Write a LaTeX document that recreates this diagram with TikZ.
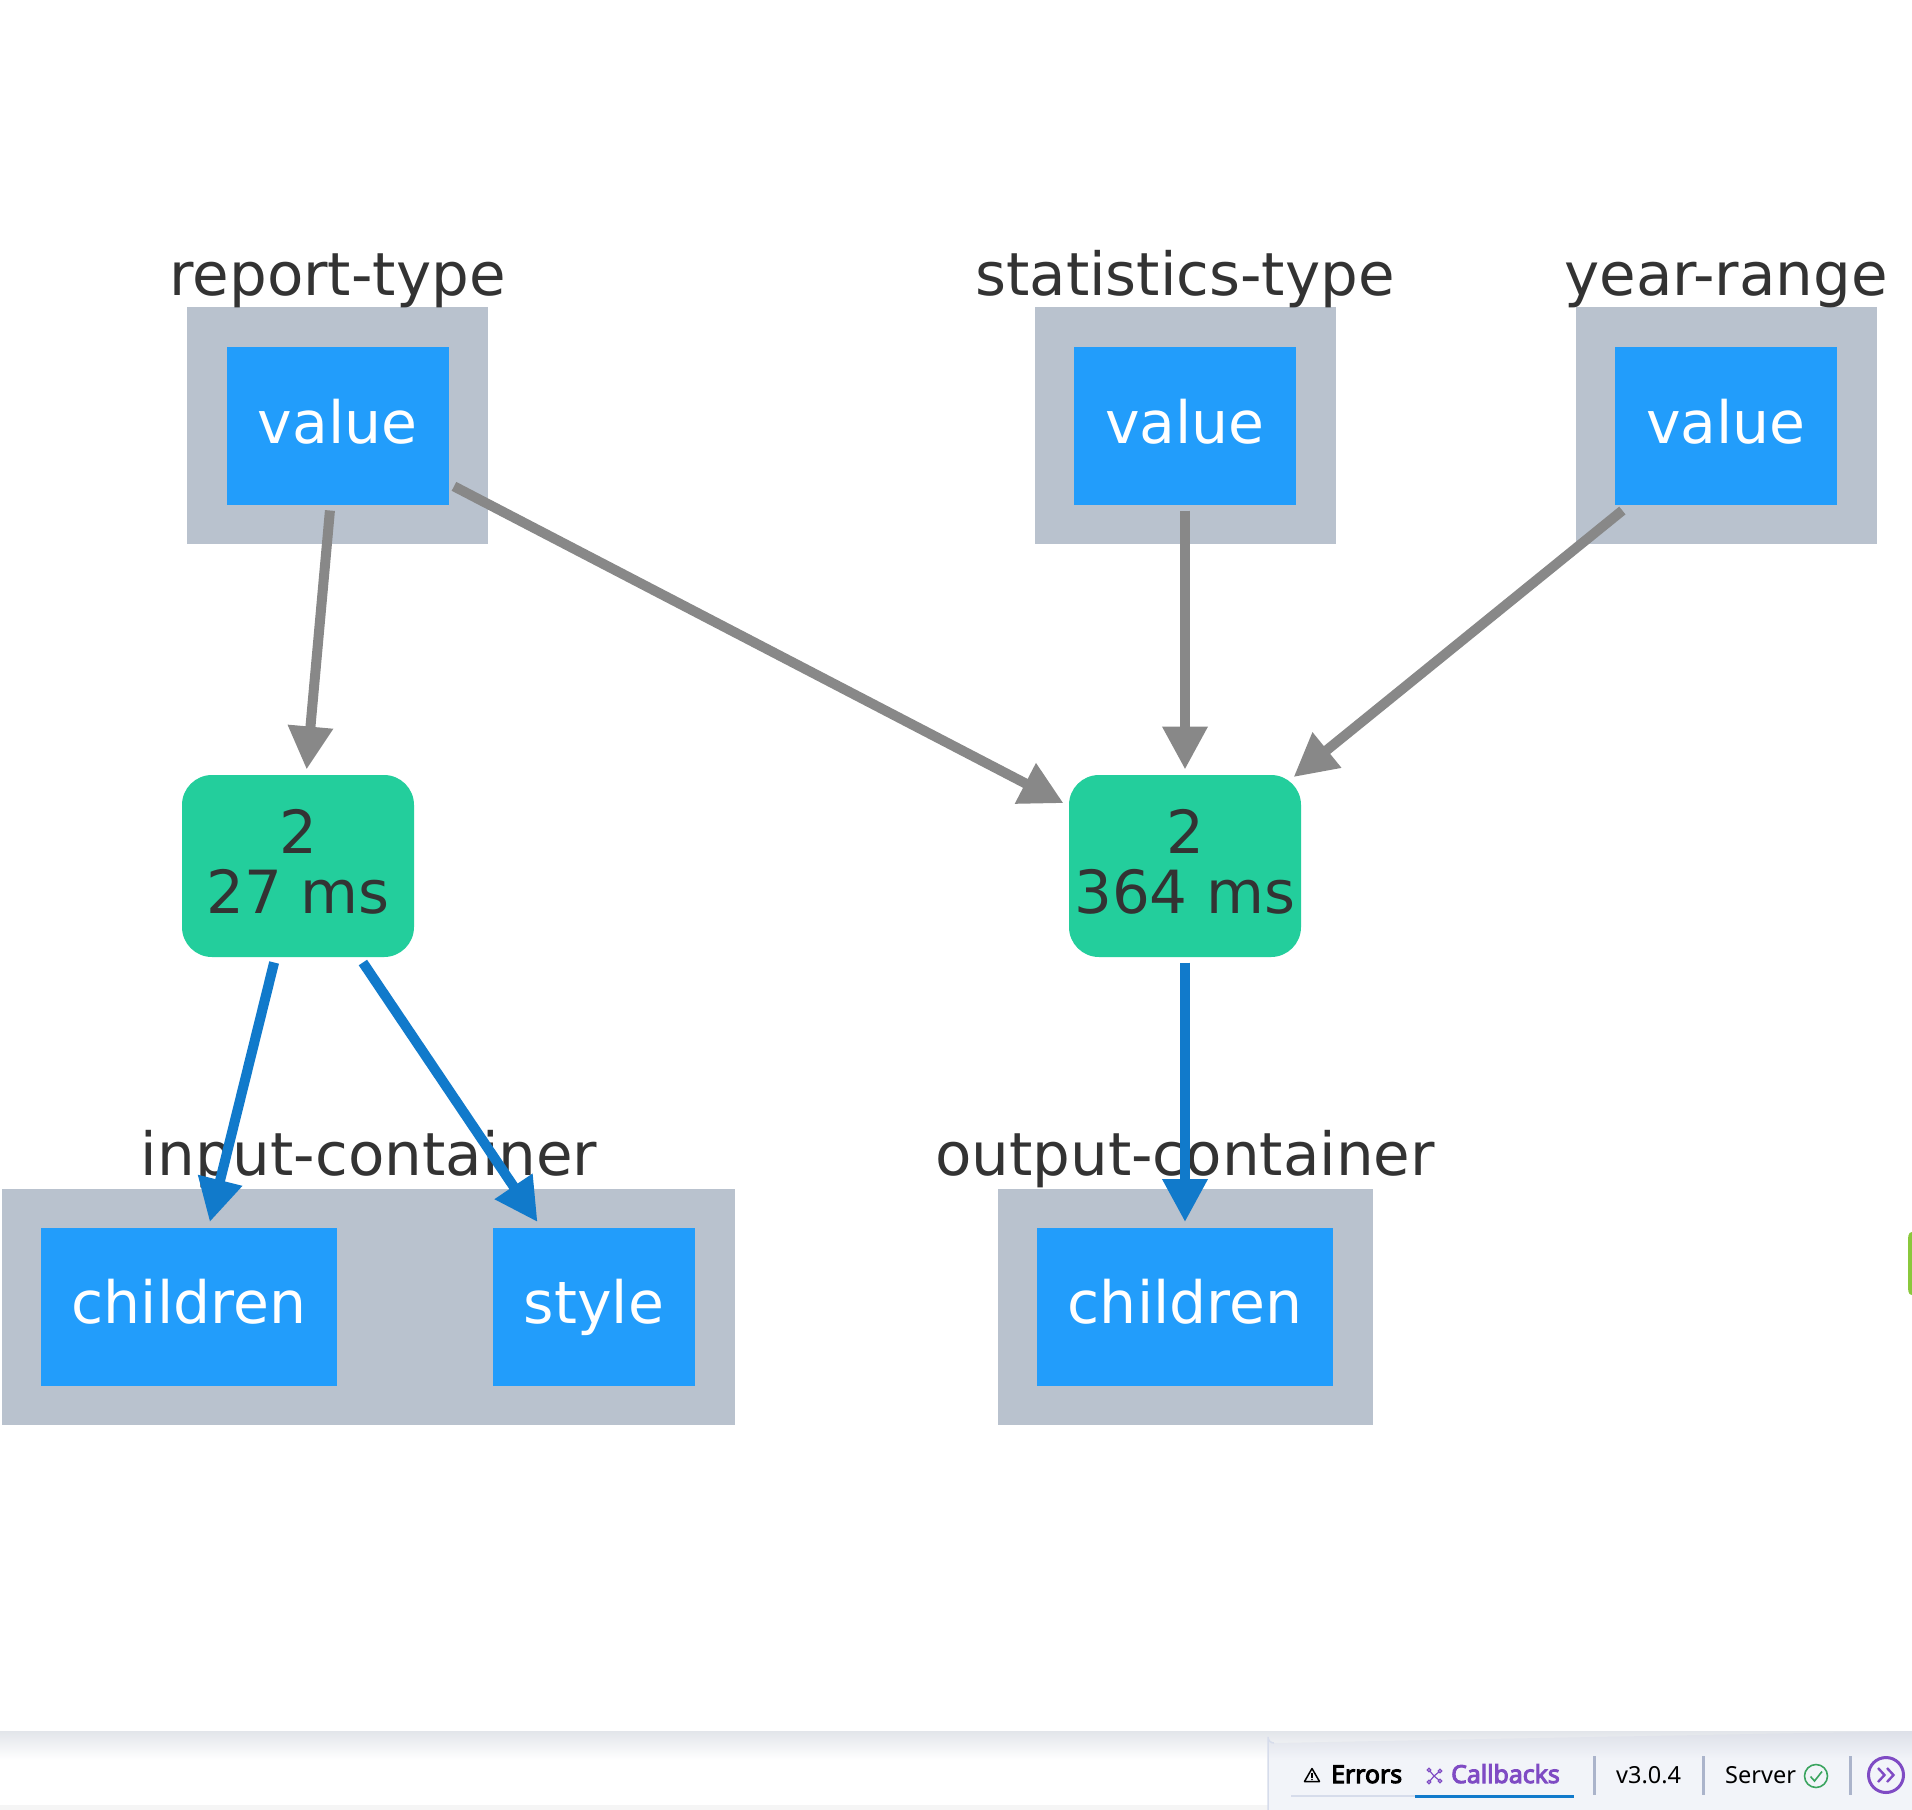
\documentclass[tikz,border=0pt]{standalone}
\usepackage{fontspec}
\setmainfont{DejaVu Sans}
\newfontfamily\barfont{Noto Sans}
\newfontfamily\barboldfont[FakeBold=4]{Noto Sans}
\usetikzlibrary{arrows.meta}
\definecolor{boxblue}{HTML}{229DFB}
\definecolor{parentgrey}{HTML}{B9C2CE}
\definecolor{cbgreen}{HTML}{23CE9C}
\definecolor{txtdark}{HTML}{333333}
\definecolor{edgegrey}{HTML}{888888}
\definecolor{edgeblue}{HTML}{117ACB}
\definecolor{purple1}{HTML}{7F4BC4}
\definecolor{panel}{HTML}{F2F4F9}
\definecolor{paneltop}{HTML}{DDE0E8}
\definecolor{panelborder}{HTML}{D6DCEB}
\definecolor{bartop}{HTML}{E2E5EA}
\definecolor{divider}{HTML}{ABB4CB}
\definecolor{okgreen}{HTML}{3AA45F}
\definecolor{limeedge}{HTML}{8AC83C}
\tikzset{
  graphtext/.style={font=\fontsize{59.5}{60}\selectfont},
  parentbox/.style={fill=parentgrey,inner sep=0pt,outer sep=0pt},
  propbox/.style={fill=boxblue,text=white,font=\fontsize{58.4}{60}\selectfont,inner sep=0pt,outer sep=5.5pt,minimum height=158pt,text height=34.5pt,text depth=0pt},
  cbbox/.style={fill=cbgreen,text=txtdark,graphtext,align=center,inner sep=0pt,outer sep=5.5pt,minimum width=232pt,minimum height=182pt,rounded corners=30pt},
  caption/.style={text=txtdark,graphtext,inner sep=0pt,anchor=base},
  inedge/.style={draw=edgegrey,line width=10pt,-{Triangle[length=43pt,width=43pt]}},
  outedge/.style={draw=edgeblue,line width=10pt,-{Triangle[length=43pt,width=43pt]}},
  bartext/.style={font=\barfont\fontsize{23.5}{26}\selectfont,inner sep=0pt,anchor=base west,text=black},
  barbold/.style={font=\barboldfont\fontsize{24.8}{26}\selectfont,inner sep=0pt,anchor=base west},
  divline/.style={draw=divider,line width=3pt},
}
\begin{document}
\begin{tikzpicture}[x=1pt,y=-1pt]
\useasboundingbox (0,0) rectangle (1912,1810);
\fill[white] (0,0) rectangle (1912,1810);
% parents
\node[parentbox,minimum width=301pt,minimum height=237pt] (p1) at (337.5,425.5) {};
\node[parentbox,minimum width=301pt,minimum height=237pt] (p2) at (1185,425.5) {};
\node[parentbox,minimum width=301pt,minimum height=237pt] (p3) at (1726,425.5) {};
\node[parentbox,minimum width=733pt,minimum height=236pt] (p4) at (368.5,1307) {};
\node[parentbox,minimum width=375pt,minimum height=236pt] (p5) at (1185,1307) {};
% captions
\node[caption] (c1) at (337.5,295) {report-type};
\node[caption] (c2) at (1185,295) {statistics-type};
\node[caption] (c3) at (1726,295) {year-range};
\node[caption] (c4) at (369,1175) {input-container};
\node[caption] (c5) at (1185,1175) {output-container};
% property nodes
\node[propbox,minimum width=222pt] (v1) at (337.5,426) {value};
\node[propbox,minimum width=222pt] (v2) at (1185,426) {value};
\node[propbox,minimum width=222pt] (v3) at (1726,426) {value};
\node[propbox,minimum width=296pt] (o1) at (189,1306.5) {children};
\node[propbox,minimum width=202pt] (o2) at (594,1306.5) {style};
\node[propbox,minimum width=296pt] (o3) at (1185,1306.5) {children};
% callbacks
\node[cbbox] (g1) at (298,866) {\raisebox{9.5pt}{2}\\[0pt]\raisebox{9.5pt}{27 ms}};
\node[cbbox] (g2) at (1185,866) {\raisebox{9.5pt}{2}\\[0pt]\raisebox{9.5pt}{364 ms}};
% edges
\draw[inedge] (v1) -- (g1);
\draw[inedge] (v1) -- (g2);
\draw[inedge] (v2) -- (g2);
\draw[inedge,shorten >=-12pt] (v3) -- (g2);
\draw[outedge] (g1) -- (o1);
\draw[outedge] (g1) -- (o2);
\draw[outedge] (g2) -- (o3);
% lime sliver at the right edge
\fill[limeedge] (1912,1232) to[out=180,in=90] (1908,1242) -- (1908,1285) to[out=-90,in=180] (1912,1295) -- cycle;
% bottom bar
\shade[top color=bartop,bottom color=white] (0,1731) rectangle (1912,1760);
\fill[white!96!black] (0,1805) rectangle (1268,1810);
\fill[panel] (1268,1810) -- (1268,1760) -- (1912,1760) -- (1912,1810) -- cycle;
\shade[top color=paneltop,bottom color=panel] (1268,1760) -- (1268,1737) arc[start angle=180,end angle=90,radius=6] -- (1912,1731) -- (1912,1760) -- cycle;
\draw[line width=1.5pt,color=panelborder] (1268,1810) -- (1268,1737) arc[start angle=180,end angle=90,radius=6];
% tabs
\draw[line width=2pt,color=panelborder] (1291,1796) -- (1415,1796);
\draw[line width=3.5pt,color=edgeblue] (1415,1796.5) -- (1574,1796.5);
\draw[line width=1.5pt,line join=round] (1312,1768.5) -- (1319.5,1781.5) -- (1304.5,1781.5) -- cycle;
\draw[line width=1.3pt] (1312,1773) -- (1312,1777.5);
\fill (1312,1779.5) circle (0.9);
\node[barbold,text=black] (t1) at (1331,1783) {Errors};
\node[barbold,text=purple1] (t2) at (1451,1783) {Callbacks};
\begin{scope}[draw=purple1,line width=1.2pt]
\draw (1429,1770) -- (1434,1776) -- (1440,1771);
\draw (1429,1782) -- (1434,1776) -- (1440,1781);
\draw[fill=white] (1429,1770) circle (1.8);
\draw[fill=white] (1440,1771) circle (1.8);
\draw[fill=white] (1429,1782) circle (1.8);
\draw[fill=white] (1440,1781) circle (1.8);
\end{scope}
\draw[divline] (1594,1756) -- (1594,1795);
\draw[divline] (1703,1756) -- (1703,1795);
\draw[divline] (1850,1756) -- (1850,1795);
\node[bartext] (t3) at (1616,1783) {v3.0.4};
\node[bartext] (t4) at (1725,1783) {Server};
\draw[okgreen,line width=1.6pt] (1816,1776) circle (11.5);
\draw[okgreen,line width=1.6pt] (1810.5,1776.5) -- (1814.5,1781) -- (1822,1771.5);
\draw[purple1,line width=3pt] (1886,1775) circle (17.5);
\draw[purple1,line width=2.4pt] (1878,1768) -- (1884.5,1775) -- (1878,1782);
\draw[purple1,line width=2.4pt] (1887,1768) -- (1893.5,1775) -- (1887,1782);
\end{tikzpicture}
\end{document}
